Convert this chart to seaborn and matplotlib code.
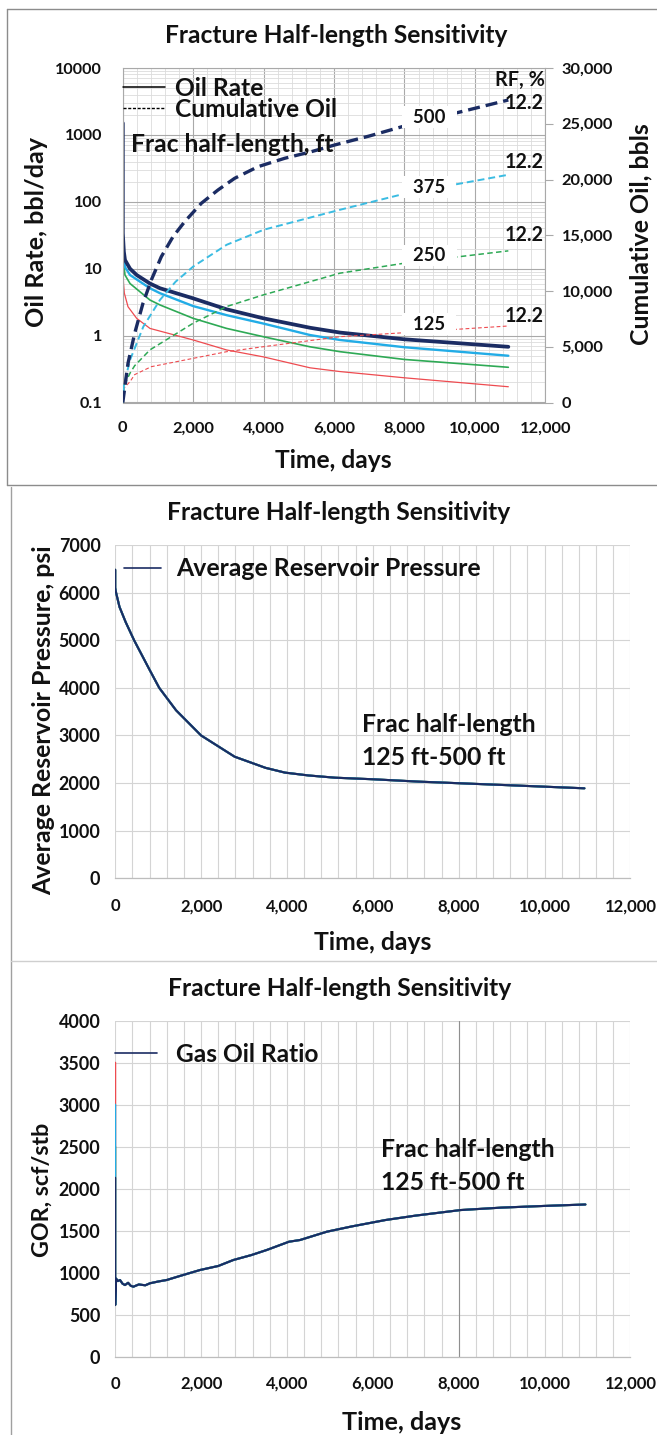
import numpy as np
import pandas as pd
import matplotlib
matplotlib.use("Agg")
import matplotlib.pyplot as plt
from matplotlib import font_manager as fm
from matplotlib.lines import Line2D
from matplotlib.ticker import (MultipleLocator, FuncFormatter, LogLocator,
                               NullFormatter)
import seaborn as sns

# ---------------------------------------------------------------- data
half_lengths = ["125", "250", "375", "500"]          # frac half-length, ft
rf_percent = [12.2, 12.2, 12.2, 12.2]                # final recovery factor

# oil rate, bbl/day (log axis)
rate_days = {
    "125": [0, 20, 44, 148, 394, 772, 2000, 2950, 4000, 5317, 6169, 8000, 10950],
    "250": [0, 0, 30, 62, 205, 772, 1057, 2000, 2950, 4000, 5317, 6169, 8000, 10950],
    "375": [0, 30, 62, 205, 772, 1057, 2000, 2950, 4000, 5317, 6169, 8000, 10950],
    "500": [0, 0, 30, 62, 205, 394, 772, 1057, 2000, 2950, 4000, 5317, 6169, 8000, 10950],
}
rate_bpd = {
    "125": [10.6, 6.0, 4.3, 2.7, 1.81, 1.28, 0.86, 0.61, 0.48, 0.33, 0.29, 0.234, 0.172],
    "250": [10000, 22, 11.0, 8.05, 6.0, 3.4, 2.87, 1.81, 1.28, 0.96, 0.68, 0.575, 0.44, 0.336],
    "375": [26, 14.0, 10.6, 8.05, 5.1, 4.3, 2.76, 2.02, 1.51, 1.02, 0.86, 0.67, 0.50],
    "500": [1500, 34, 18.0, 13.5, 10.0, 8.05, 6.0, 5.1, 3.6, 2.47, 1.81, 1.31, 1.11, 0.88, 0.68],
}

# cumulative oil, bbls (right axis)
cum_days = {
    "125": [0, 34, 205, 337, 810, 2000, 2950, 4000, 6169, 8000, 10950],
    "250": [0, 34, 205, 337, 772, 2000, 2950, 4000, 6169, 8000, 10950],
    "375": [0, 34, 205, 583, 1057, 1500, 2000, 2950, 4000, 6169, 8000, 10950],
    "500": [0, 148, 337, 573, 810, 1094, 1426, 1757, 2230, 2703, 3177, 3840,
            4597, 5354, 6017, 7000, 8000, 9500, 10950],
}
cum_bbl = {
    "125": [0, 1300, 1868, 2500, 3213, 3960, 4557, 5006, 5903, 6261, 6862],
    "250": [0, 1500, 2630, 3300, 4722, 7113, 8608, 9657, 11600, 12495, 13600],
    "375": [0, 1600, 3812, 6800, 9206, 10835, 12195, 14146, 15492, 17286, 18721, 20425],
    "500": [0, 3515, 6206, 8897, 10987, 13077, 14871, 16216, 17866, 19059, 20108,
            21149, 21902, 22494, 23095, 23900, 24798, 25993, 27130],
}

# average reservoir pressure, psi (all half-lengths overlap)
pressure_days = [0, 0, 20, 100, 244, 440, 800, 1025, 1416, 2000, 2781, 3500,
                 3952, 4500, 5120, 6000, 7074, 9025, 10927]
pressure_psi = [6480, 6100, 6000, 5700, 5380, 5000, 4380, 4000, 3530, 3000,
                2554, 2320, 2220, 2160, 2113, 2080, 2030, 1960, 1890]

# gas oil ratio, scf/stb
gor_spike = {"125": 3500, "250": 2500, "375": 3000, "500": 2130}
gor_days = [0, 20, 60, 112, 170, 228, 300, 360, 422, 550, 700, 810, 1000,
            1199, 1500, 1975, 2400, 2751, 3172, 3527, 4048, 4303, 4928, 5500,
            6293, 7000, 8048, 9000, 10000, 10950]
gor_scf_stb = [615, 930, 900, 913, 870, 853, 880, 845, 833, 860, 850, 874,
               895, 913, 960, 1032, 1080, 1151, 1210, 1270, 1369, 1389, 1488,
               1550, 1627, 1680, 1746, 1775, 1795, 1812]

# ---------------------------------------------------------------- styles
colors = {"125": "#EE4B50", "250": "#2EA955", "375": "#22ACE6", "500": "#1B2C63"}
dash_colors = {"125": "#EE4B50", "250": "#2EA955", "375": "#3BBCE2", "500": "#1B2C63"}
rate_lw = {"125": 0.9, "250": 1.2, "375": 1.7, "500": 2.7}
cum_lw = {"125": 0.8, "250": 1.1, "375": 1.4, "500": 2.4}
cum_dash = {"125": (3.4, 2.2), "250": (3.6, 2.2), "375": (3.6, 2.0), "500": (3.6, 1.8)}
label_dy_pt = {"125": 5, "250": 3.5, "375": 1.5, "500": 2}
rf_dy_pt = {"125": 7, "250": 11.5, "375": 9, "500": -2}


def bold_family(candidates):
    for fam in candidates:
        try:
            path = fm.findfont(fm.FontProperties(family=fam, weight="bold"),
                               fallback_to_default=False)
        except Exception:
            continue
        if any(k in path.lower() for k in ("bold", "black", "heavy")):
            return fam
    return "DejaVu Sans"


FAMILY = bold_family(["Lato", "Roboto", "Open Sans", "Noto Sans"])

sns.set_theme(style="white")
plt.rcParams["font.family"] = [FAMILY, "DejaVu Sans"]
plt.rcParams["font.weight"] = "bold"
plt.rcParams["axes.labelweight"] = "bold"
plt.rcParams["axes.titleweight"] = "bold"
for key in ("text.color", "axes.labelcolor", "xtick.color", "ytick.color"):
    plt.rcParams[key] = "#111111"

W, H = 657, 1435
fig = plt.figure(figsize=(W / 100, H / 100), dpi=100)
fig.patch.set_facecolor("white")
renderer = fig.canvas.get_renderer()


def size_for(text, target_px):
    """Font size (pt) that makes `text` span target_px pixels."""
    t = fig.text(0, 0, text, fontsize=20, weight="bold")
    bb = t.get_window_extent(renderer)
    t.remove()
    return 20 * target_px / bb.width


def row_height(size):
    t = fig.text(0, 0, "Ag", fontsize=size, weight="bold")
    h = t.get_window_extent(renderer).height
    t.remove()
    return h


def rect(x0, y0, x1, y1):
    return [x0 / W, 1 - y1 / H, (x1 - x0) / W, (y1 - y0) / H]


def fig_line(xs, ys, color, lw=1.0):
    fig.add_artist(Line2D([x / W for x in xs], [1 - y / H for y in ys],
                          transform=fig.transFigure, color=color, lw=lw))


def px(v):
    return v * 72 / 100


def add_legend(ax, handles, labels, size, x_frac, y_frac, handle_px, gap_px,
               row_px=None):
    fs_px = size * 100 / 72
    spacing = 0.0
    if row_px is not None:
        spacing = (row_px - row_height(size)) / fs_px
    return ax.legend(handles, labels, loc="center left",
                     bbox_to_anchor=(x_frac, y_frac), frameon=False,
                     borderaxespad=0, borderpad=0,
                     handlelength=handle_px / fs_px,
                     handletextpad=gap_px / fs_px, labelspacing=spacing,
                     prop=dict(weight="bold", size=size))


comma = FuncFormatter(lambda v, _: f"{int(round(v)):,}")
plain = FuncFormatter(lambda v, _: f"{int(round(v))}")

# panel frames
fig_line([7, 7], [9, 485], "#8c8c8c")
fig_line([7, W], [9, 9], "#8c8c8c")
fig_line([7, W], [485, 485], "#8c8c8c")
fig_line([11, 11], [487, H], "#a0a0a0")
fig_line([11, W], [961, 961], "#cfcfcf")

order = ["125", "250", "375", "500"]

# ================================================= rate / cumulative
X0, Y0, X1, Y1 = 122.8, 68, 545.3, 402.5
ax1 = fig.add_axes(rect(X0, Y0, X1, Y1))
ax1.set_yscale("log")
for h in order:
    sns.lineplot(x=rate_days[h], y=rate_bpd[h], ax=ax1, color=colors[h],
                 lw=rate_lw[h], estimator=None, sort=False, legend=False)
ax1.set_xlim(0, 12000)
ax1.set_ylim(0.1, 10000)
ax1.xaxis.set_major_locator(MultipleLocator(2000))
ax1.xaxis.set_minor_locator(MultipleLocator(400))
ax1.xaxis.set_major_formatter(comma)
ax1.yaxis.set_major_locator(LogLocator(base=10, numticks=10))
ax1.yaxis.set_minor_locator(LogLocator(base=10, subs=np.arange(2, 10), numticks=20))
ax1.yaxis.set_minor_formatter(NullFormatter())
ax1.yaxis.set_major_formatter(FuncFormatter(lambda v, _: f"{v:g}"))
ax1.set_axisbelow(True)
ax1.grid(which="major", color="#a9a9a9", lw=0.8)
ax1.grid(which="minor", color="#dcdcdc", lw=0.6)
ax1.tick_params(which="both", length=0)
ax1.tick_params(axis="y", pad=px(20.5), labelsize=size_for("10000", 47))
ax1.tick_params(axis="x", pad=px(19), labelsize=size_for("10,000", 52))
for s in ax1.spines.values():
    s.set_color("#a9a9a9")
    s.set_linewidth(0.8)
ax1.set_xlabel("Time, days", fontsize=size_for("Time, days", 117))
ax1.xaxis.label.set_va("center")
ax1.xaxis.set_label_coords((333 - X0) / (X1 - X0), (Y1 - 460) / (Y1 - Y0))
ax1.set_ylabel("Oil Rate, bbl/day", fontsize=size_for("Oil Rate, bbl/day", 190))
ax1.yaxis.label.set_va("center")
ax1.yaxis.set_label_coords((37 - X0) / (X1 - X0), (Y1 - 232) / (Y1 - Y0))
ax1.set_title("Fracture Half-length Sensitivity",
              fontsize=size_for("Fracture Half-length Sensitivity", 342),
              x=(336 - X0) / (X1 - X0), y=(Y1 - 42.7) / (Y1 - Y0),
              va="baseline", pad=0)

ax2 = ax1.twinx()
for h in order:
    sns.lineplot(x=cum_days[h], y=cum_bbl[h], ax=ax2, color=dash_colors[h],
                 lw=cum_lw[h], linestyle=(0, cum_dash[h]),
                 estimator=None, sort=False, legend=False)
ax2.set_ylim(0, 30000)
ax2.yaxis.set_major_locator(MultipleLocator(5000))
ax2.yaxis.set_major_formatter(comma)
ax2.tick_params(axis="y", length=px(8), width=0.8, color="#a9a9a9", pad=px(8.5),
                labelsize=size_for("30,000", 51.7), direction="out")
for s in ax2.spines.values():
    s.set_visible(False)
ax2.set_ylabel("Cumulative Oil, bbls", fontsize=size_for("Cumulative Oil, bbls", 222))
ax2.yaxis.label.set_va("center")
ax2.yaxis.set_label_coords((641 - X0) / (X1 - X0), (Y1 - 234) / (Y1 - Y0))

# half-length tags sitting on the dashed curves, and final RF values
tag_size = size_for("500", 32.3)
rf_size = size_for("12.2", 39)
for h, rf in zip(half_lengths, rf_percent):
    t_tag = 8700
    ax2.annotate(f"  {h}  ", xy=(t_tag, np.interp(t_tag, cum_days[h], cum_bbl[h])),
                 xytext=(0, label_dy_pt[h]), textcoords="offset points",
                 ha="center", va="center", fontsize=tag_size, zorder=5,
                 bbox=dict(boxstyle="square,pad=0.12", fc="white", ec="none"))
    ax2.annotate(f"{rf:.1f}", xy=(cum_days[h][-1], cum_bbl[h][-1]),
                 xytext=(11.5, rf_dy_pt[h]), textcoords="offset points",
                 ha="center", va="center", fontsize=rf_size, zorder=6)
ax2.text((520 - X0) / (X1 - X0), (Y1 - 80) / (Y1 - Y0), "RF, %",
         transform=ax2.transAxes, ha="center", va="center",
         fontsize=size_for("RF, %", 50))

leg_size = size_for("Cumulative Oil", 162)
leg_handles = [Line2D([], [], color="black", lw=1.1),
               Line2D([], [], color="black", lw=1.0, linestyle=(0, (2.2, 1.2)))]
add_legend(ax2, leg_handles, ["Oil Rate", "Cumulative Oil"], leg_size,
           0.0, (Y1 - 99) / (Y1 - Y0), handle_px=42, gap_px=10, row_px=21)
ax2.text((131 - X0) / (X1 - X0), (Y1 - 145) / (Y1 - Y0), "Frac half-length, ft",
         transform=ax2.transAxes, ha="left", va="center",
         fontsize=size_for("Frac half-length, ft", 203))


# ================================================= pressure & GOR panels
def setup_linear(ax, ymax, ystep, ytick_text, xpad):
    ax.set_xlim(0, 12000)
    ax.set_ylim(0, ymax)
    ax.xaxis.set_major_locator(MultipleLocator(2000))
    ax.xaxis.set_minor_locator(MultipleLocator(400))
    ax.xaxis.set_major_formatter(comma)
    ax.yaxis.set_major_locator(MultipleLocator(ystep))
    ax.yaxis.set_major_formatter(plain)
    ax.set_axisbelow(True)
    ax.grid(which="major", color="#d4d4d4", lw=0.8)
    ax.grid(which="minor", axis="x", color="#d4d4d4", lw=0.8)
    ax.tick_params(which="both", length=0)
    ax.tick_params(axis="y", pad=px(14.7), labelsize=size_for(ytick_text, 41.9))
    ax.tick_params(axis="x", pad=px(xpad), labelsize=size_for("10,000", 52.4))
    for name, s in ax.spines.items():
        s.set_visible(name == "bottom")
    ax.spines["bottom"].set_color("#bdbdbd")
    ax.spines["bottom"].set_linewidth(0.9)


title_size = size_for("Fracture Half-length Sensitivity", 343.5)
note_size = size_for("Frac half-length", 174)

MX0, MX1 = 115.2, 630.5
PY0, PY1 = 545, 878.3
ax3 = fig.add_axes(rect(MX0, PY0, MX1, PY1))
for h in order:
    sns.lineplot(x=pressure_days, y=pressure_psi, ax=ax3, color=colors[h],
                 lw=1.5, estimator=None, sort=False, legend=False)
setup_linear(ax3, 7000, 1000, "7000", 20)
ax3.set_title("Fracture Half-length Sensitivity", fontsize=title_size,
              x=(339 - MX0) / (MX1 - MX0), y=(PY1 - 520) / (PY1 - PY0),
              va="baseline", pad=0)
ax3.set_xlabel("Time, days", fontsize=size_for("Time, days", 117.3))
ax3.xaxis.label.set_va("center")
ax3.xaxis.set_label_coords((373 - MX0) / (MX1 - MX0), (PY1 - 942) / (PY1 - PY0))
ax3.set_ylabel("Average Reservoir Pressure, psi",
               fontsize=size_for("Average Reservoir Pressure, psi", 350))
ax3.yaxis.label.set_va("center")
ax3.yaxis.set_label_coords((44 - MX0) / (MX1 - MX0), (PY1 - 720) / (PY1 - PY0))
add_legend(ax3, [Line2D([], [], color=colors["500"], lw=1.2)],
           ["Average Reservoir Pressure"],
           size_for("Average Reservoir Pressure", 305.8),
           (123.6 - MX0) / (MX1 - MX0), (PY1 - 569) / (PY1 - PY0),
           handle_px=37.4, gap_px=15)
for line, yb in (("Frac half-length", 732.3), ("125 ft-500 ft", 765)):
    ax3.text((362 - MX0) / (MX1 - MX0), (PY1 - yb) / (PY1 - PY0), line,
             transform=ax3.transAxes, ha="left", va="baseline", fontsize=note_size)

GY0, GY1 = 1020.7, 1356.7
ax4 = fig.add_axes(rect(MX0, GY0, MX1, GY1))
for h in order:
    sns.lineplot(x=[0] + gor_days, y=[gor_spike[h]] + gor_scf_stb, ax=ax4,
                 color=colors[h], lw=1.5, estimator=None, sort=False,
                 legend=False)
setup_linear(ax4, 4000, 500, "4000", 19)
ax4.axvline(8000, color="#8f8f8f", lw=0.8, zorder=0.6)
ax4.set_title("Fracture Half-length Sensitivity", fontsize=title_size,
              x=(339.3 - MX0) / (MX1 - MX0), y=(GY1 - 995.7) / (GY1 - GY0),
              va="baseline", pad=0)
ax4.set_xlabel("Time, days", fontsize=size_for("Time, days", 119.4))
ax4.xaxis.label.set_va("center")
ax4.xaxis.set_label_coords((402 - MX0) / (MX1 - MX0), (GY1 - 1423) / (GY1 - GY0))
ax4.set_ylabel("GOR, scf/stb", fontsize=size_for("GOR, scf/stb", 135))
ax4.yaxis.label.set_va("center")
ax4.yaxis.set_label_coords((42 - MX0) / (MX1 - MX0), (GY1 - 1190) / (GY1 - GY0))
add_legend(ax4, [Line2D([], [], color=colors["500"], lw=1.2)],
           ["Gas Oil Ratio"], size_for("Gas Oil Ratio", 142.4),
           0.0, (GY1 - 1054) / (GY1 - GY0), handle_px=42, gap_px=19)
for line, yb in (("Frac half-length", 1157.3), ("125 ft-500 ft", 1190)):
    ax4.text((381 - MX0) / (MX1 - MX0), (GY1 - yb) / (GY1 - GY0), line,
             transform=ax4.transAxes, ha="left", va="baseline", fontsize=note_size)

fig.savefig("out.png", dpi=100)
